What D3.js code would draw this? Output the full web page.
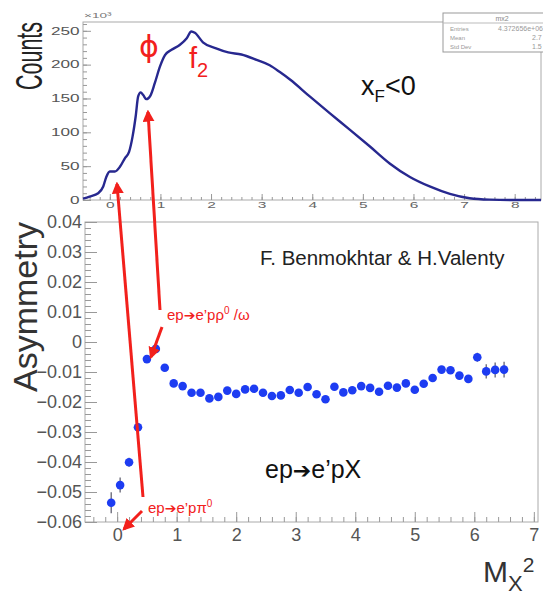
<!DOCTYPE html>
<html>
<head>
<meta charset="utf-8">
<script src="https://cdn.jsdelivr.net/npm/d3@7"></script>
<style>
  body { margin: 0; background: #fff; }
  svg { display: block; font-family: "Liberation Sans", Arial, Helvetica, sans-serif; }
</style>
</head>
<body>
<div id="chart"></div>
<script>
// top panel: missing mass squared spectrum (counts in units of 10^3)
const mx2 = [-0.53, -0.4, -0.23, -0.13, -0.07, 0, 0.1, 0.2, 0.3, 0.38, 0.45, 0.51, 0.56, 0.61, 0.66,
  0.72, 0.8, 0.89, 0.99, 1.09, 1.22, 1.38, 1.52, 1.61, 1.68, 1.84, 2.1, 2.34, 2.6, 2.9, 3.16, 3.36,
  3.56, 3.95, 4.35, 4.74, 5.14, 5.53, 5.93, 6.32, 6.72, 7.11, 7.5, 8.0, 8.52];
const counts = [2, 5, 10, 20, 34, 42, 42, 49, 62, 71, 94, 123, 153, 159, 155,
  149, 154, 173, 197, 214, 222, 229, 239, 249, 247, 233, 224, 218, 215, 207, 199, 189,
  178, 153, 128, 104, 79, 54, 34, 20, 9, 2.5, 0.5, 0, 0];
const topXTicks = [0, 1, 2, 3, 4, 5, 6, 7, 8];
const topYTicks = [0, 50, 100, 150, 200, 250];

// bottom panel: beam spin asymmetry vs Mx^2
const asymX = [-0.1, 0.05, 0.2, 0.35, 0.5, 0.65, 0.8, 0.95, 1.1, 1.25, 1.4, 1.55, 1.7, 1.85, 2.0,
  2.15, 2.3, 2.45, 2.6, 2.75, 2.9, 3.05, 3.2, 3.35, 3.5, 3.65, 3.8, 3.95, 4.1, 4.25, 4.4, 4.55,
  4.7, 4.85, 5.0, 5.15, 5.3, 5.45, 5.6, 5.75, 5.9, 6.05, 6.2, 6.35, 6.5];
const asymY = [-0.0536, -0.0477, -0.0401, -0.0284, -0.0057, -0.0023, -0.0086, -0.0138, -0.0147,
  -0.0169, -0.0169, -0.0188, -0.0183, -0.0162, -0.0173, -0.0158, -0.0156, -0.0169, -0.018, -0.0178,
  -0.016, -0.0169, -0.015, -0.0174, -0.0191, -0.0149, -0.0168, -0.0161, -0.0147, -0.0153, -0.0166,
  -0.0146, -0.0152, -0.0138, -0.0159, -0.0139, -0.012, -0.0092, -0.0094, -0.0112, -0.0123,
  -0.0051, -0.0098, -0.0093, -0.0092];
const asymErr = [0.0035, 0.0025, 0.0015, 0.0012, 0.001, 0.001, 0.001, 0.001, 0.001, 0.001, 0.001,
  0.001, 0.001, 0.001, 0.001, 0.001, 0.001, 0.001, 0.001, 0.001, 0.001, 0.001, 0.001, 0.001, 0.001,
  0.001, 0.001, 0.001, 0.001, 0.001, 0.001, 0.001, 0.001, 0.001, 0.001, 0.001, 0.001, 0.0012,
  0.0012, 0.0012, 0.0012, 0.0015, 0.0024, 0.0025, 0.0026];
const botXTicks = [0, 1, 2, 3, 4, 5, 6, 7];
const botYTicks = [-0.06, -0.05, -0.04, -0.03, -0.02, -0.01, 0, 0.01, 0.02, 0.03, 0.04];

const W = 543, H = 599;
const red = "#f2201c";
const arrowChar = "➔";
const svg = d3.select("#chart").append("svg").attr("width", W).attr("height", H);
svg.append("rect").attr("width", W).attr("height", H).attr("fill", "#fff");

// ---------- top panel ----------
const xTop = d3.scaleLinear().domain([-0.53, 8.52]).range([83, 541]);
const yTop = d3.scaleLinear().domain([0, 263]).range([200, 22]);
const stretch = 1.72; // top panel picture is stretched sideways

const gTop = svg.append("g");
gTop.append("rect")
  .attr("x", 83).attr("y", 22).attr("width", 458).attr("height", 178)
  .attr("fill", "none").attr("stroke", "#aaa");

function styleAxis(g, size, color, sx) {
  g.select(".domain").remove();
  g.selectAll("line").attr("stroke", "#999");
  g.selectAll("text").attr("fill", color).style("font-size", size + "px");
  if (sx) g.selectAll("text").attr("transform", `scale(${sx},1)`);
}

const topMinorX = d3.range(-0.4, 8.5, 0.2);
gTop.append("g").attr("transform", "translate(0,200)")
  .call(d3.axisBottom(xTop).tickValues(topMinorX).tickSize(-3).tickFormat(""))
  .call(g => styleAxis(g, 10, "#666"));
gTop.append("g").attr("transform", "translate(0,200)")
  .call(d3.axisBottom(xTop).tickValues(topXTicks).tickSizeInner(-6).tickSizeOuter(0).tickPadding(2))
  .call(g => styleAxis(g, 9, "#666", stretch));

const topMinorY = d3.range(0, 261, 10);
gTop.append("g").attr("transform", "translate(83,0)")
  .call(d3.axisLeft(yTop).tickValues(topMinorY).tickSize(-4).tickFormat(""))
  .call(g => styleAxis(g, 10, "#666"));
gTop.append("g").attr("transform", "translate(83,0)")
  .call(d3.axisLeft(yTop).tickValues(topYTicks).tickSizeInner(-8).tickSizeOuter(0).tickPadding(2))
  .call(g => styleAxis(g, 10, "#555", stretch));

gTop.append("text")
  .attr("transform", "translate(84,18) scale(1.7,1)")
  .attr("fill", "#777").style("font-size", "8px")
  .text("×10³");

const line = d3.line()
  .x((d, i) => xTop(mx2[i]))
  .y(d => yTop(d))
  .curve(d3.curveMonotoneX);
gTop.append("path")
  .datum(counts)
  .attr("d", line)
  .attr("fill", "none")
  .attr("stroke", "#27288f")
  .attr("stroke-width", 2.4);

// stats box
const stats = gTop.append("g");
stats.append("rect").attr("x", 443).attr("y", 13).attr("width", 130).attr("height", 39)
  .attr("fill", "#fff").attr("stroke", "#999");
stats.append("line").attr("x1", 443).attr("x2", 573).attr("y1", 23).attr("y2", 23).attr("stroke", "#bbb");
stats.append("text").attr("x", 502).attr("y", 21).attr("text-anchor", "middle")
  .attr("fill", "#888").style("font-size", "7px").text("mx2");
[["Entries", "4.372656e+06", 31, 498], ["Mean", "2.7", 40, 532], ["Std Dev", "1.5", 49, 532]].forEach(r => {
  stats.append("text").attr("x", 450).attr("y", r[2]).attr("fill", "#999").style("font-size", "6px").text(r[0]);
  stats.append("text").attr("x", r[3]).attr("y", r[2]).attr("fill", "#999").style("font-size", "7px").text(r[1]);
});

gTop.append("text")
  .attr("transform", "translate(42,56) rotate(-90) scale(1,1.75)")
  .attr("text-anchor", "middle").attr("fill", "#222")
  .style("font-size", "21.5px").text("Counts");

gTop.append("text").attr("x", 149).attr("y", 57).attr("text-anchor", "middle")
  .attr("fill", red).style("font-size", "30px").style("font-family", "DejaVu Sans")
  .text("ϕ");
const f2 = gTop.append("text").attr("x", 189).attr("y", 68).attr("fill", red).style("font-size", "29px");
f2.append("tspan").text("f");
f2.append("tspan").attr("dy", 9).style("font-size", "20px").text("2");

const xf = gTop.append("text").attr("x", 361).attr("y", 95).attr("fill", "#111").style("font-size", "27px");
xf.append("tspan").text("x");
xf.append("tspan").attr("dy", 7).style("font-size", "17px").text("F");
xf.append("tspan").attr("dy", -7).text("<0");

// ---------- bottom panel ----------
const xBot = d3.scaleLinear().domain([-0.54, 7.07]).range([85, 538]);
const yBot = d3.scaleLinear().domain([-0.06, 0.04]).range([522, 222]);

const gBot = svg.append("g");
gBot.append("rect")
  .attr("x", 85).attr("y", 222).attr("width", 453).attr("height", 300)
  .attr("fill", "none").attr("stroke", "#aaa");

gBot.append("g").attr("transform", "translate(0,522)")
  .call(d3.axisBottom(xBot).tickValues(d3.range(-0.4, 7.01, 0.2)).tickSize(-5).tickFormat(""))
  .call(g => styleAxis(g, 10, "#555"));
gBot.append("g").attr("transform", "translate(0,522)")
  .call(d3.axisBottom(xBot).tickValues(botXTicks).tickSizeInner(-10).tickSizeOuter(0).tickPadding(6))
  .call(g => styleAxis(g, 18, "#555"));

gBot.append("g").attr("transform", "translate(85,0)")
  .call(d3.axisLeft(yBot).tickValues(d3.range(-0.06, 0.0401, 0.002)).tickSize(-6).tickFormat(""))
  .call(g => styleAxis(g, 10, "#555"));
gBot.append("g").attr("transform", "translate(85,0)")
  .call(d3.axisLeft(yBot).tickValues(botYTicks).tickSizeInner(-12).tickSizeOuter(0).tickPadding(3)
    .tickFormat(d => Math.abs(d) < 1e-9 ? "0" : d3.format(".2f")(d)))
  .call(g => styleAxis(g, 18, "#555"));

gBot.append("text")
  .attr("transform", "translate(37,307) rotate(-90)")
  .attr("text-anchor", "middle").attr("fill", "#333")
  .style("font-size", "34px").text("Asymmetry");

gBot.append("text").attr("x", 260).attr("y", 265).attr("fill", "#222")
  .style("font-size", "20.5px").text("F. Benmokhtar & H.Valenty");

// error bars and points
const pts = gBot.append("g");
pts.selectAll("line").data(asymY).join("line")
  .attr("x1", (d, i) => xBot(asymX[i])).attr("x2", (d, i) => xBot(asymX[i]))
  .attr("y1", (d, i) => yBot(d - asymErr[i])).attr("y2", (d, i) => yBot(d + asymErr[i]))
  .attr("stroke", "#556").attr("stroke-width", 1.2);
pts.selectAll("circle").data(asymY).join("circle")
  .attr("cx", (d, i) => xBot(asymX[i])).attr("cy", d => yBot(d))
  .attr("r", 4.3).attr("fill", "#1d3cf2");

// reaction labels (arrow glyph drawn in a font that has it)
function reaction(sel, before, after, sup, arrowSize) {
  sel.append("tspan").text(before);
  sel.append("tspan").style("font-family", "DejaVu Sans").style("font-size", arrowSize + "px").text(arrowChar);
  sel.append("tspan").text(after);
  if (sup) {
    sel.append("tspan").attr("dy", -6).style("font-size", "10px").text(sup[0]);
    if (sup[1]) sel.append("tspan").attr("dy", 6).text(sup[1]);
  }
}
const lab1 = gBot.append("text").attr("x", 167).attr("y", 320).attr("fill", red).style("font-size", "15px");
reaction(lab1, "ep", "e’pρ", ["0", " /ω"], 14);

const lab2 = gBot.append("text").attr("x", 148).attr("y", 513).attr("fill", red).style("font-size", "15px");
reaction(lab2, "ep", "e’pπ", ["0"], 14);

const lab3 = gBot.append("text").attr("x", 265).attr("y", 478).attr("fill", "#111").style("font-size", "25px");
reaction(lab3, "ep", "e’pX", null, 22);

const mx = gBot.append("text").attr("x", 483).attr("y", 582).attr("fill", "#333").style("font-size", "30px");
mx.append("tspan").text("M");
mx.append("tspan").attr("dy", 9).style("font-size", "22px").text("X");
mx.append("tspan").attr("dy", -19).style("font-size", "21px").text("2");

// red arrows
svg.append("defs").append("marker")
  .attr("id", "head").attr("viewBox", "0 0 10 10").attr("refX", 8).attr("refY", 5)
  .attr("markerWidth", 4).attr("markerHeight", 4).attr("orient", "auto")
  .append("path").attr("d", "M0,0 L10,5 L0,10 Z").attr("fill", red);

const arrows = [
  [143, 497, 117, 184],
  [142, 511, 124, 529],
  [160, 310, 148, 112],
  [162, 327, 151, 357]
];
svg.append("g").selectAll("line").data(arrows).join("line")
  .attr("x1", d => d[0]).attr("y1", d => d[1])
  .attr("x2", d => d[2]).attr("y2", d => d[3])
  .attr("stroke", red).attr("stroke-width", 3)
  .attr("marker-end", "url(#head)");
</script>
</body>
</html>
